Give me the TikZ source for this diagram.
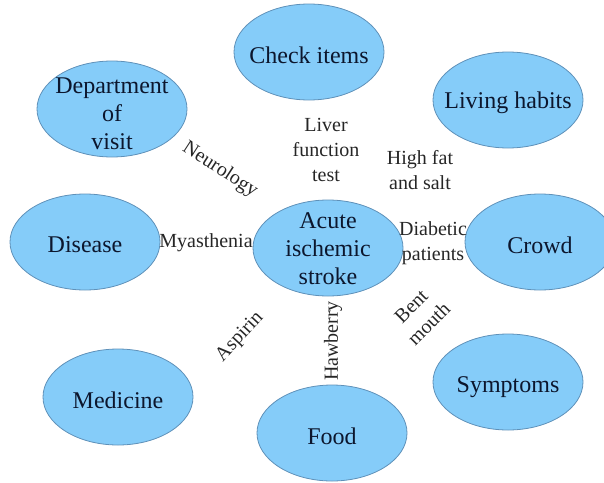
\documentclass[tikz,border=0pt]{standalone}
\usepackage{fontspec}
\setmainfont{Liberation Serif}
\usetikzlibrary{shapes.geometric}
\definecolor{bubblefill}{RGB}{133,204,249}
\definecolor{bubbleline}{RGB}{95,145,185}
\definecolor{bubbleink}{RGB}{12,22,45}

\begin{document}
\begin{tikzpicture}[x=0.5pt, y=-0.5pt,
    bubble/.style={ellipse, draw=bubbleline, fill=bubblefill, minimum width=75pt, minimum height=48pt, inner sep=0pt},
    bubtext/.style={align=center, font=\fontsize{12}{14}\selectfont, text=bubbleink, yshift=-1.5pt},
    relation/.style={align=center, font=\fontsize{10}{12.5}\selectfont, text=black!85}]
    \useasboundingbox (0,0) rectangle (604,482);
    \clip (0,0) rectangle (604,482);
    % the categories
    \node [bubble] (check) at (309,52) {};
    \node [bubble] (dept) at (112,109) {};
    \node [bubble] (habits) at (508,100) {};
    \node [bubble] (disease) at (85,242) {};
    \node [bubble] (stroke) at (328,248) {};
    \node [bubble] (crowd) at (540,242) {};
    \node [bubble] (medicine) at (118,397) {};
    \node [bubble] (food) at (332,433) {};
    \node [bubble] (symptoms) at (508,382) {};
    \node [bubtext] at (check) {Check items};
    \node [bubtext, yshift=-1pt] at (dept) {Department\\of\\visit};
    \node [bubtext] at (habits) {Living habits};
    \node [bubtext] at (disease) {Disease};
    \node [bubtext, yshift=1pt] at (stroke) {Acute\\ischemic\\stroke};
    \node [bubtext] at (crowd) {Crowd};
    \node [bubtext] at (medicine) {Medicine};
    \node [bubtext] at (food) {Food};
    \node [bubtext, yshift=-1pt] at (symptoms) {Symptoms};
    % the relations
    \node [relation] (liver) at (326,150) {Liver\\function\\test};
    \node [relation] (fat) at (420,170) {High fat\\and salt};
    \node [relation, rotate=-33] (neuro) at (220,170) {Neurology};
    \node [relation] (myas) at (206,243) {Myasthenia};
    \node [relation] (diab) at (433,243) {Diabetic\\patients};
    \node [relation, rotate=47] (aspirin) at (240,337) {Aspirin};
    \node [relation, rotate=90] (haw) at (333,341) {Hawberry};
    \node [relation, rotate=45] (bent) at (420,315) {Bent\\mouth};
\end{tikzpicture}
\end{document}
